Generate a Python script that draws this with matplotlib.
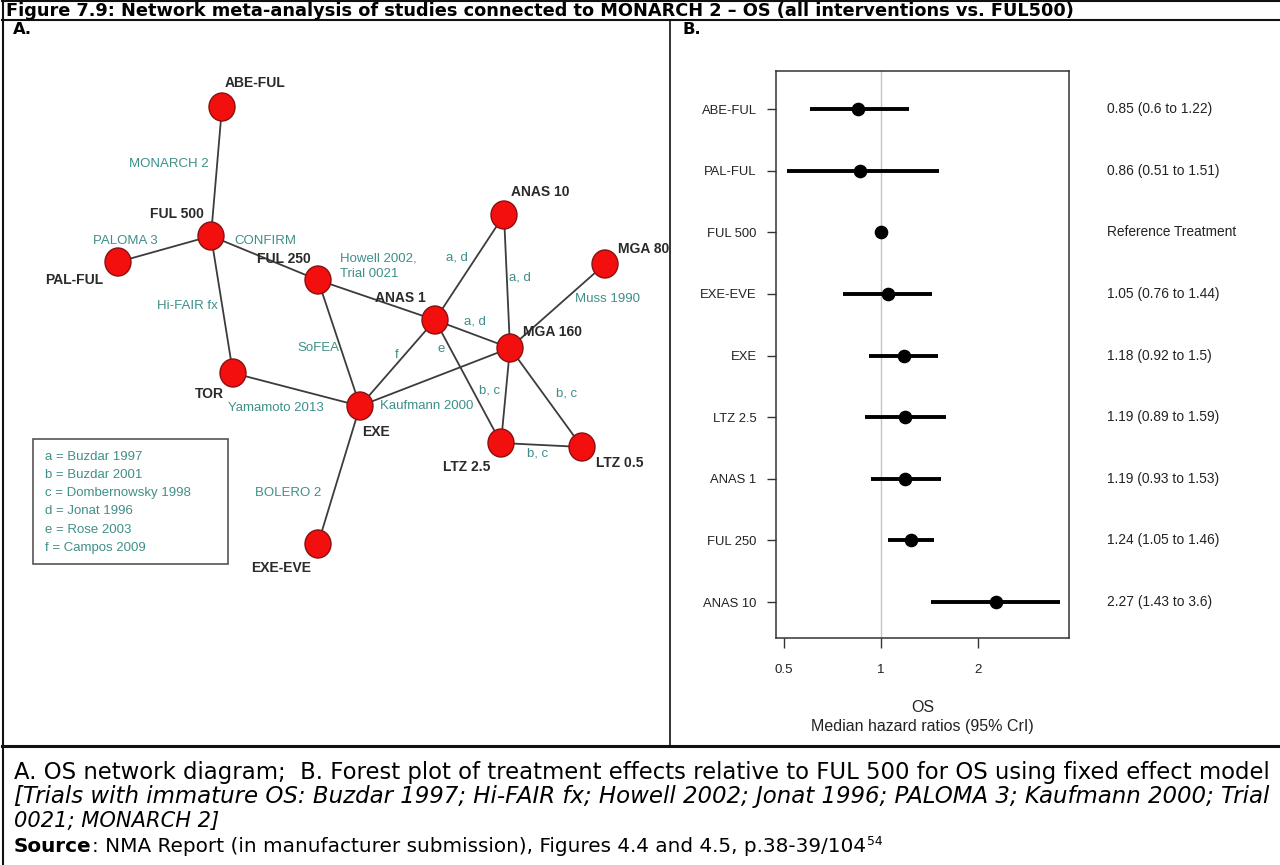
import matplotlib
matplotlib.use("Agg")
import matplotlib.pyplot as plt
from matplotlib.patches import Ellipse, Rectangle
from matplotlib.transforms import blended_transform_factory
import numpy as np

# ---------------- data ----------------
treatments = ["ABE-FUL", "PAL-FUL", "FUL 500", "EXE-EVE", "EXE",
              "LTZ 2.5", "ANAS 1", "FUL 250", "ANAS 10"]
hr_median = [0.85, 0.86, 1.00, 1.05, 1.18, 1.19, 1.19, 1.24, 2.27]
hr_lower = [0.60, 0.51, np.nan, 0.76, 0.92, 0.89, 0.93, 1.05, 1.43]
hr_upper = [1.22, 1.51, np.nan, 1.44, 1.50, 1.59, 1.53, 1.46, 3.60]
summary_text = ["0.85 (0.6 to 1.22)", "0.86 (0.51 to 1.51)", "Reference Treatment",
                "1.05 (0.76 to 1.44)", "1.18 (0.92 to 1.5)", "1.19 (0.89 to 1.59)",
                "1.19 (0.93 to 1.53)", "1.24 (1.05 to 1.46)", "2.27 (1.43 to 3.6)"]
x_ticks = [0.5, 1, 2]
x_tick_labels = ["0.5", "1", "2"]

# network: nodes and comparisons (edges) with trial labels
net_nodes = ["ABE-FUL", "FUL 500", "PAL-FUL", "FUL 250", "TOR", "EXE", "ANAS 1",
             "ANAS 10", "MGA 80", "MGA 160", "LTZ 2.5", "LTZ 0.5", "EXE-EVE"]
net_edges = [("ABE-FUL", "FUL 500"), ("FUL 500", "PAL-FUL"), ("FUL 500", "FUL 250"),
             ("FUL 500", "TOR"), ("FUL 250", "ANAS 1"), ("FUL 250", "EXE"),
             ("TOR", "EXE"), ("ANAS 1", "ANAS 10"), ("ANAS 10", "MGA 160"),
             ("ANAS 1", "MGA 160"), ("ANAS 1", "EXE"), ("ANAS 1", "LTZ 2.5"),
             ("EXE", "MGA 160"), ("MGA 160", "MGA 80"), ("MGA 160", "LTZ 2.5"),
             ("MGA 160", "LTZ 0.5"), ("LTZ 2.5", "LTZ 0.5"), ("EXE", "EXE-EVE")]
edge_trials = ["MONARCH 2", "PALOMA 3", "CONFIRM", "Hi-FAIR fx", "Howell 2002,\nTrial 0021",
               "SoFEA", "Yamamoto 2013", "a, d", "a, d", "a, d", "f", "e",
               "Kaufmann 2000", "Muss 1990", "b, c", "b, c", "b, c", "BOLERO 2"]
trial_key = ["a = Buzdar 1997", "b = Buzdar 2001", "c = Dombernowsky 1998",
             "d = Jonat 1996", "e = Rose 2003", "f = Campos 2009"]

title = ("Figure 7.9: Network meta-analysis of studies connected to MONARCH 2 \u2013 OS "
         "(all interventions vs. FUL500)")
caption1 = ("A. OS network diagram;  B. Forest plot of treatment effects relative to FUL 500 "
            "for OS using fixed effect model")
caption2 = ("[Trials with immature OS: Buzdar 1997; Hi-FAIR fx; Howell 2002; Jonat 1996; "
            "PALOMA 3; Kaufmann 2000; Trial")
caption3 = "0021; MONARCH 2]"
source_bold = "Source"
source_rest = ": NMA Report (in manufacturer submission), Figures 4.4 and 4.5, p.38-39/104"
source_sup = "54"

# ---------------- layout (pixel coordinates) ----------------
W, H = 1280, 865
node_xy = {"ABE-FUL": (222, 107), "FUL 500": (211, 236), "PAL-FUL": (118, 262),
           "FUL 250": (318, 280), "TOR": (233, 373), "EXE": (360, 406),
           "ANAS 1": (435, 320), "ANAS 10": (504, 215), "MGA 80": (605, 264),
           "MGA 160": (510, 348), "LTZ 2.5": (501, 443), "LTZ 0.5": (582, 447),
           "EXE-EVE": (318, 544)}
node_label_xy = {"ABE-FUL": (255, 83, "center"), "FUL 500": (177, 214, "center"),
                 "PAL-FUL": (74, 280, "center"), "FUL 250": (284, 259, "center"),
                 "TOR": (209, 394, "center"), "EXE": (376, 432, "center"),
                 "ANAS 1": (400, 298, "center"), "ANAS 10": (540, 192, "center"),
                 "MGA 80": (618, 249, "left"), "MGA 160": (553, 332, "center"),
                 "LTZ 2.5": (467, 467, "center"), "LTZ 0.5": (620, 463, "center"),
                 "EXE-EVE": (281, 568, "center")}
edge_label_xy = [(169, 164, "center"), (125, 241, "center"), (265, 241, "center"),
                 (187, 306, "center"), (340, 266, "left"), (318, 348, "center"),
                 (276, 408, "center"), (457, 257, "center"), (520, 277, "center"),
                 (475, 322, "center"), (397, 355, "center"), (441, 349, "center"),
                 (380, 406, "left"), (608, 299, "center"), (490, 390, "center"),
                 (567, 393, "center"), (538, 453, "center"), (288, 493, "center")]

fig = plt.figure(figsize=(W / 100, H / 100), dpi=100)
fig.patch.set_facecolor("white")

# background overlay axes in pixels
ax0 = fig.add_axes([0, 0, 1, 1], zorder=0)
ax0.set_xlim(0, W)
ax0.set_ylim(H, 0)
ax0.axis("off")

LINE = "#111111"
ax0.plot([2, W], [1.0, 1.0], color=LINE, lw=1.5)
ax0.plot([2, W], [19.5, 19.5], color=LINE, lw=1.5)
ax0.plot([2.5, 2.5], [1, H], color=LINE, lw=1.5)
ax0.plot([669.5, 669.5], [19.5, 746], color=LINE, lw=1.2)
ax0.plot([2, W], [746, 746], color=LINE, lw=2.2)

CAP_FONT = "DejaVu Sans"
renderer = fig.canvas.get_renderer()


def fit(t, target_w):
    w = t.get_window_extent(renderer).width
    t.set_fontsize(t.get_fontsize() * target_w / w)
    return t.get_fontsize()


ax0.text(6, 16, title, fontsize=12.8, fontweight="bold", family=CAP_FONT,
         ha="left", va="baseline", color="#000000")
ax0.text(13, 34, "A.", fontsize=11.8, fontweight="bold",
         family=CAP_FONT, ha="left", va="baseline")
ax0.text(682, 34, "B.", fontsize=11.8, fontweight="bold",
         family=CAP_FONT, ha="left", va="baseline")

t1 = ax0.text(14, 779, caption1, fontsize=12, family=CAP_FONT, ha="left", va="baseline")
fs1 = fit(t1, 1252)
t2 = ax0.text(14, 803, caption2, fontsize=12, family=CAP_FONT, style="italic",
              ha="left", va="baseline")
fs2 = fit(t2, 1252)
t3 = ax0.text(14, 827, caption3, fontsize=fs2, family=CAP_FONT, style="italic",
              ha="left", va="baseline")
fit(t3, 205)
ts = ax0.text(14, 852, source_bold, fontsize=fs1, family=CAP_FONT, fontweight="bold",
              ha="left", va="baseline")
tr = ax0.text(14, 852, source_rest, fontsize=fs1, family=CAP_FONT,
              ha="left", va="baseline")
# scale the source line so the whole line matches its width in the reference
wb = ts.get_window_extent(renderer).width
wr = tr.get_window_extent(renderer).width
k = 852.0 / (wb + wr)
fs4 = fs1 * k
ts.set_fontsize(fs4)
tr.set_fontsize(fs4)
x_next = 14 + ts.get_window_extent(renderer).width
tr.set_x(x_next)
x_next += tr.get_window_extent(renderer).width + 1
ax0.text(x_next, 845, source_sup, fontsize=fs4 * 0.62, family=CAP_FONT,
         ha="left", va="baseline")

# ---------------- panel A: network ----------------
ax_net = fig.add_axes([3 / W, 1 - 745 / H, (669 - 3) / W, (745 - 20) / H], zorder=1)
ax_net.set_xlim(3, 669)
ax_net.set_ylim(745, 20)
ax_net.axis("off")
ax_net.patch.set_alpha(0)

EDGE_C = "#3c3c3c"
TEAL = "#3f8f89"
NODE_FONT = "Liberation Sans"
for (a, b), lab, (lx, ly, ha) in zip(net_edges, edge_trials, edge_label_xy):
    xa, ya = node_xy[a]
    xb, yb = node_xy[b]
    ax_net.plot([xa, xb], [ya, yb], color=EDGE_C, lw=1.3, zorder=2,
                solid_capstyle="round")
    ax_net.text(lx, ly, lab, fontsize=9.5, family=NODE_FONT, color=TEAL, ha=ha,
                va="center", linespacing=1.35, zorder=4)

for n in net_nodes:
    x, y = node_xy[n]
    ax_net.add_patch(Ellipse((x, y), 26, 28, facecolor="#f40f0f", edgecolor="#8a1010",
                             lw=1.0, zorder=3))
    lx, ly, ha = node_label_xy[n]
    ax_net.text(lx, ly, n, fontsize=10, family=NODE_FONT, color="#2a2a2a",
                fontweight="bold", ha=ha, va="center", zorder=4, clip_on=True)

# trial key box
ax_net.add_patch(Rectangle((33, 439), 195, 125, facecolor="white",
                           edgecolor="#555555", lw=1.2, zorder=2))
for i, line in enumerate(trial_key):
    ax_net.text(45, 456.5 + 18.3 * i, line, fontsize=9.5, family=NODE_FONT,
                color=TEAL, ha="left", va="center", zorder=4)

# ---------------- panel B: forest plot ----------------
L, R, T, B = 776, 1069, 71, 638
axf = fig.add_axes([L / W, 1 - B / H, (R - L) / W, (B - T) / H], zorder=2)
axf.set_xscale("log")
axf.set_xlim(0.472, 3.83)
axf.set_ylim(len(treatments) - 1 + 0.584, -0.617)
ypos = np.arange(len(treatments))

axf.axvline(1, color="#c4c4c4", lw=1.0, zorder=1)
for y, m, lo, hi in zip(ypos, hr_median, hr_lower, hr_upper):
    if not np.isnan(lo):
        axf.plot([lo, hi], [y, y], color="black", lw=2.8, solid_capstyle="butt", zorder=2)
    axf.plot([m], [y], marker="o", ms=8.8, color="black", mec="black", zorder=3)

FF = "Liberation Sans"
axf.set_yticks(ypos)
axf.set_yticklabels(treatments, family=FF, fontsize=9.4, color="#222222")
axf.set_xticks(x_ticks)
axf.set_xticklabels(x_tick_labels, family=FF, fontsize=9.6, color="#222222")
axf.xaxis.set_minor_locator(matplotlib.ticker.NullLocator())
axf.tick_params(axis="y", direction="out", length=6.5, width=1.0, pad=7.5, color="#333333")
axf.tick_params(axis="x", direction="out", length=7.5, width=1.0, pad=11, color="#333333")
for s in axf.spines.values():
    s.set_color("#333333")
    s.set_linewidth(1.1)

trans = blended_transform_factory(axf.transAxes, axf.transData)
for y, txt in zip(ypos, summary_text):
    axf.text((1107 - L) / (R - L), y, txt, transform=trans, family=FF, fontsize=9.9,
             color="#222222", ha="left", va="center", clip_on=False)

ax0.text((L + R) / 2, 708, "OS", family=FF, fontsize=11.5, color="#222222",
         ha="center", va="center")
ax0.text((L + R) / 2, 727, "Median hazard ratios (95% CrI)", family=FF, fontsize=11.5,
         color="#222222", ha="center", va="center")

fig.savefig("out.png", dpi=100, facecolor="white")
